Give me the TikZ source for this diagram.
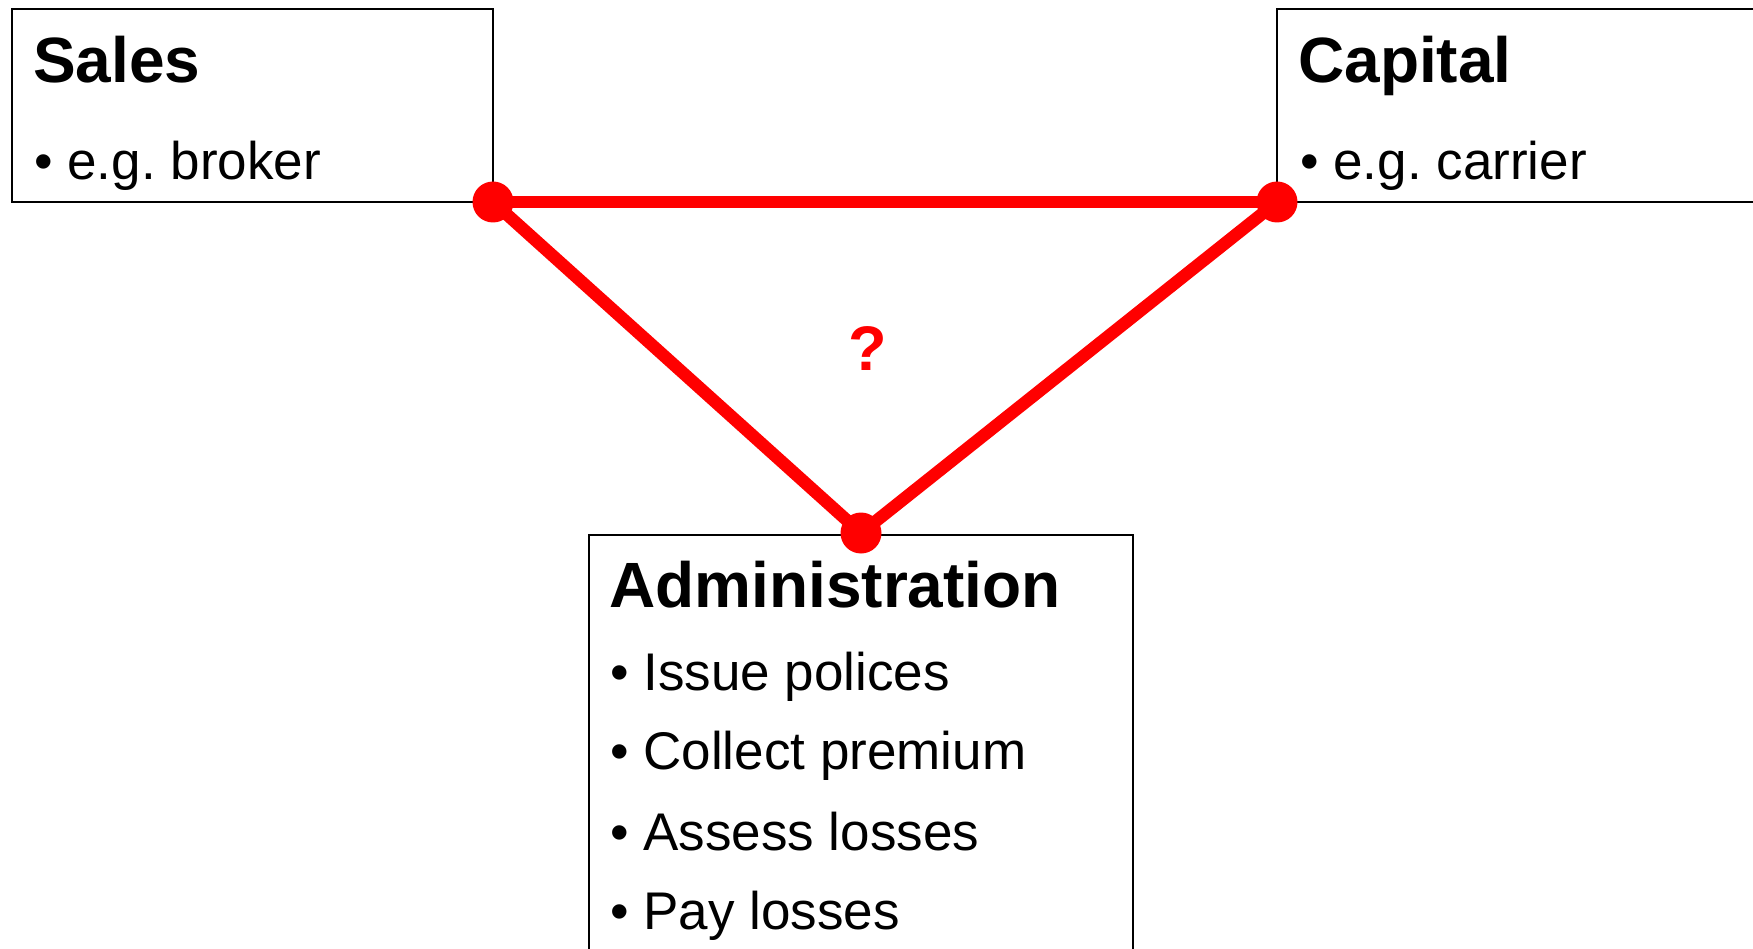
\documentclass[tikz,border=0pt]{standalone}
\usepackage{fontspec}
\setmainfont{Liberation Sans}
\frenchspacing
\begin{document}
\begin{tikzpicture}[x=1pt,y=-1pt,
  box/.style={draw=black, line width=2pt, inner sep=0pt, outer sep=0pt, anchor=north west},
  title/.style={anchor=base west, inner sep=0pt, font=\fontsize{64}{77}\selectfont\bfseries},
  item/.style={anchor=base west, inner sep=0pt, font=\fontsize{53}{64}\selectfont},
  link/.style={draw=red, line width=12.5pt},
  joint/.style={circle, fill=red, minimum size=41pt, inner sep=0pt}]
% page and frame
\fill[white] (0,0) rectangle (1753,949);
\useasboundingbox (0,0) rectangle (1753,949);
\clip (0,0) rectangle (1753,949);

% the three function boxes
\node[box, minimum width=481pt, minimum height=193pt] (sales) at (12,9) {};
\node[box, minimum width=600pt, minimum height=193pt] (capital) at (1277,9) {};
\node[box, minimum width=544pt, minimum height=500pt] (admin) at (589,535) {};

% box contents
\node[title] (salesT) at (33,83) {Sales};
\node[item] (salesI) at (34,180) {• e.g. broker};
\node[title] (capitalT) at (1298,83) {Capital};
\node[item] (capitalI) at (1300,180) {• e.g. carrier};
\node[title] (adminT) at (609,607) {Administration};
\node[item] (admin1) at (610,690) {• Issue polices};
\node[item] (admin2) at (610,769) {• Collect premium};
\node[item] (admin3) at (610,850) {• Assess losses};
\node[item] (admin4) at (610,929) {• Pay losses};

% triangle of links
\coordinate (jS) at (sales.south east);
\coordinate (jC) at (capital.south west);
\coordinate (jA) at ([yshift=2pt]admin.north);
\draw[link] (jS) -- (jC);
\draw[link] (jC) -- (jA);
\draw[link] (jA) -- (jS);
\node[joint] (dS) at (jS) {};
\node[joint] (dC) at (jC) {};
\node[joint] (dA) at (jA) {};

\node[inner sep=0pt, text=red, font=\fontsize{63}{75}\selectfont\bfseries] (q) at (868,349) {?};
\end{tikzpicture}
\end{document}
